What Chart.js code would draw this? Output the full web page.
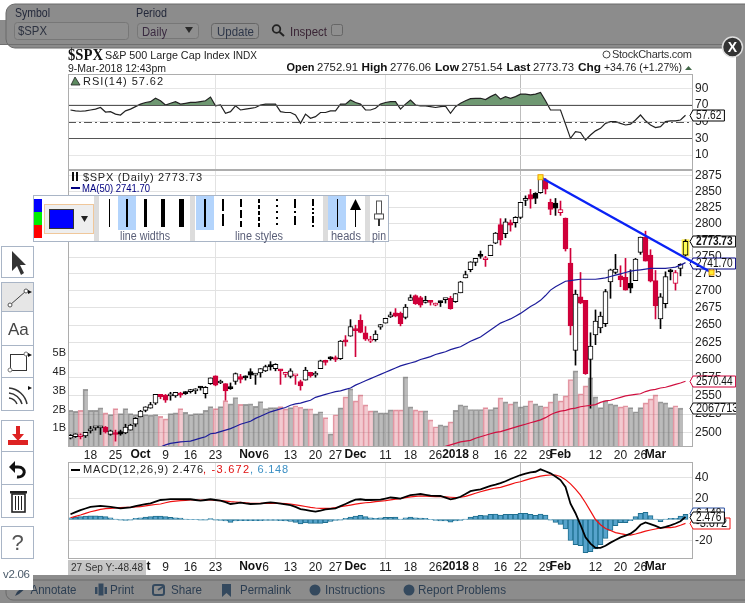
<!DOCTYPE html>
<html>
<head>
<meta charset="utf-8">
<title>$SPX</title>
<script src="https://cdn.jsdelivr.net/npm/chart.js@4"></script>
<style>
html, body { margin: 0; padding: 0; background: #fff; overflow: hidden; }
#page { position: relative; width: 745px; height: 603px; font-family: "Liberation Sans", Arial, sans-serif; }
canvas { position: absolute; left: 0; }
#overlay { position: absolute; left: 0; top: 0; z-index: 5; }
#overlay text { font-family: "Liberation Sans", Arial, sans-serif; }
</style>
</head>
<body>
<div id="page">
<canvas id="rsiChart" width="745" height="96" style="top:74px"></canvas>
<canvas id="priceChart" width="745" height="300" style="top:170px"></canvas>
<canvas id="macdChart" width="745" height="113" style="top:462px"></canvas>

<svg id="overlay" width="745" height="603" xmlns="http://www.w3.org/2000/svg">
  <!-- greyed out page around the dialog -->
  <rect x="0" y="20" width="745" height="24" fill="#8c8c8c"/>
  <rect x="6" y="4" width="760" height="44" rx="9" fill="#8c8c8c" stroke="#6a6a6a"/>
  <rect x="0" y="44" width="745" height="1" fill="#6f6f6f"/>
  <rect x="736" y="44" width="9" height="531" fill="#8c8c8c"/>
  <rect x="0" y="575" width="745" height="28" fill="#8c8c8c"/>
  <rect x="6" y="580" width="760" height="20" rx="7" fill="none" stroke="#6a6a6a"/>

  <!-- symbol form -->
  <text x="15" y="17" font-size="12" fill="#23283a" textLength="35" lengthAdjust="spacingAndGlyphs">Symbol</text>
  <rect x="14.5" y="22.5" width="114" height="17" rx="3" fill="#8f8f8f" stroke="#777"/>
  <text x="18" y="35" font-size="12" fill="#2d3240" textLength="29" lengthAdjust="spacingAndGlyphs">$SPX</text>
  <text x="136" y="17" font-size="12" fill="#23283a" textLength="31" lengthAdjust="spacingAndGlyphs">Period</text>
  <rect x="137.5" y="23.5" width="61" height="15" rx="3" fill="#8f8f8f" stroke="#777"/>
  <text x="142" y="36" font-size="12" fill="#3a2a40" textLength="25" lengthAdjust="spacingAndGlyphs">Daily</text>
  <polygon points="185,27 193,27 189,33" fill="#2a2a2a"/>
  <rect x="211.5" y="23.5" width="47" height="15" rx="3" fill="#8f8f8f" stroke="#666"/>
  <text x="217" y="36" font-size="12" fill="#2d3648" textLength="37" lengthAdjust="spacingAndGlyphs">Update</text>
  <circle cx="276.5" cy="29" r="3.8" fill="none" stroke="#222" stroke-width="1.8"/>
  <line x1="279.5" y1="32" x2="284" y2="36" stroke="#222" stroke-width="2"/>
  <text x="290" y="36" font-size="12" fill="#3a2535" textLength="37" lengthAdjust="spacingAndGlyphs">Inspect</text>
  <rect x="331.5" y="24.5" width="11" height="11" rx="2" fill="#8f8f8f" stroke="#666"/>

  <!-- close button -->
  <circle cx="732.5" cy="47" r="10" fill="#333" stroke="#ddd" stroke-width="1.5"/>
  <text x="732.5" y="52" font-size="14" font-weight="bold" fill="#fff" text-anchor="middle">X</text>

  <!-- chart header -->
  <text x="68" y="60" font-size="16" font-weight="bold" style="font-family:'Liberation Serif'" fill="#111" textLength="35" lengthAdjust="spacingAndGlyphs">$SPX</text>
  <text x="105" y="59" font-size="11" fill="#222" textLength="125" lengthAdjust="spacingAndGlyphs">S&amp;P 500 Large Cap Index</text>
  <text x="233" y="59" font-size="10" fill="#222" textLength="24" lengthAdjust="spacingAndGlyphs">INDX</text>
  <text x="68" y="72" font-size="11" fill="#222" textLength="98" lengthAdjust="spacingAndGlyphs">9-Mar-2018 12:43pm</text>
  <text x="286.5" y="71" font-size="11.5" font-weight="bold" fill="#111" textLength="28" lengthAdjust="spacingAndGlyphs">Open</text>
  <text x="317" y="71" font-size="11" fill="#222" textLength="41" lengthAdjust="spacingAndGlyphs">2752.91</text>
  <text x="361.5" y="71" font-size="11.5" font-weight="bold" fill="#111" textLength="26" lengthAdjust="spacingAndGlyphs">High</text>
  <text x="390" y="71" font-size="11" fill="#222" textLength="41" lengthAdjust="spacingAndGlyphs">2776.06</text>
  <text x="435" y="71" font-size="11.5" font-weight="bold" fill="#111" textLength="24" lengthAdjust="spacingAndGlyphs">Low</text>
  <text x="461.5" y="71" font-size="11" fill="#222" textLength="41" lengthAdjust="spacingAndGlyphs">2751.54</text>
  <text x="506.5" y="71" font-size="11.5" font-weight="bold" fill="#111" textLength="24" lengthAdjust="spacingAndGlyphs">Last</text>
  <text x="533" y="71" font-size="11" fill="#222" textLength="41" lengthAdjust="spacingAndGlyphs">2773.73</text>
  <text x="578" y="71" font-size="11.5" font-weight="bold" fill="#111" textLength="23" lengthAdjust="spacingAndGlyphs">Chg</text>
  <text x="604" y="71" font-size="11" fill="#222" textLength="78" lengthAdjust="spacingAndGlyphs">+34.76 (+1.27%)</text>
  <polygon points="685,70 692,70 688.5,66" fill="#44694a"/>
  <circle cx="606.5" cy="54.5" r="3.5" fill="none" stroke="#444"/>
  <text x="612" y="58" font-size="11" fill="#333" textLength="80">StockCharts.com</text>

  <!-- pane legends -->
  <polygon points="71,85 75,77 80,85" fill="#5d8a60" stroke="#222" stroke-width="0.8"/>
  <text x="83" y="85" font-size="11" fill="#222" textLength="80">RSI(14) 57.62</text>
  <path d="M73 172v9M77 172v9" stroke="#111" stroke-width="2"/>
  <text x="83" y="181" font-size="11" fill="#222" textLength="119">$SPX (Daily) 2773.73</text>
  <rect x="71" y="187" width="9" height="2" fill="#000080"/>
  <text x="82" y="192" font-size="11" fill="#000080" textLength="68" lengthAdjust="spacingAndGlyphs">MA(50) 2741.70</text>
  <rect x="71" y="469" width="9" height="2" fill="#000"/>
  <text x="83" y="473" font-size="11" fill="#222" textLength="120">MACD(12,26,9) 2.476</text>
  <text x="203" y="473" font-size="11" fill="#e01010" textLength="46">, -3.672</text>
  <text x="250" y="473" font-size="11" fill="#3a8fc4" textLength="38">, 6.148</text>

  <!-- annotation toolbar -->
  <rect x="33.5" y="195.5" width="355" height="46" fill="#fff" stroke="#a9b5c6"/>
  <rect x="34" y="199" width="8" height="13" fill="#0000ff"/>
  <rect x="34" y="212" width="8" height="13" fill="#00ee00"/>
  <rect x="34" y="225" width="8" height="13" fill="#ff0000"/>
  <rect x="44.5" y="204.5" width="49" height="29" fill="#eee" stroke="#f0c79a"/>
  <rect x="49.5" y="209.5" width="24" height="19" fill="#0000ff" stroke="#333"/>
  <polygon points="81,216 88,216 84.5,222" fill="#222"/>
  <rect x="94" y="196" width="5" height="45" fill="#dcdcdc"/>
  <rect x="118" y="196" width="18" height="34" fill="#b3d4fc"/>
  <path d="M109.5 199v28" stroke="#000" stroke-width="1"/>
  <path d="M127 199v28" stroke="#000" stroke-width="2"/>
  <path d="M145.5 199v28" stroke="#000" stroke-width="3"/>
  <path d="M163 199v28" stroke="#000" stroke-width="4"/>
  <path d="M181.5 199v28" stroke="#000" stroke-width="5"/>
  <text x="120" y="240" font-size="12" fill="#5a5f78" textLength="50" lengthAdjust="spacingAndGlyphs">line widths</text>
  <rect x="190" y="196" width="5" height="45" fill="#dcdcdc"/>
  <rect x="196" y="196" width="18" height="34" fill="#b3d4fc"/>
  <path d="M205 199v28" stroke="#000" stroke-width="2"/>
  <path d="M223 199v28" stroke="#000" stroke-width="2" stroke-dasharray="12 3"/>
  <path d="M241 199v28" stroke="#000" stroke-width="2" stroke-dasharray="8 3"/>
  <path d="M259 199v28" stroke="#000" stroke-width="2" stroke-dasharray="4 2"/>
  <path d="M277 199v28" stroke="#000" stroke-width="2" stroke-dasharray="2 4"/>
  <path d="M295 199v28" stroke="#000" stroke-width="2" stroke-dasharray="9 3 2 3"/>
  <path d="M313 199v28" stroke="#000" stroke-width="2" stroke-dasharray="7 2 2 2 2 2"/>
  <text x="235" y="240" font-size="12" fill="#5a5f78" textLength="48" lengthAdjust="spacingAndGlyphs">line styles</text>
  <rect x="323" y="196" width="5" height="45" fill="#dcdcdc"/>
  <rect x="328" y="196" width="18" height="34" fill="#b3d4fc"/>
  <path d="M337.5 199v28" stroke="#000" stroke-width="1"/>
  <path d="M355.5 205v22" stroke="#000" stroke-width="1"/>
  <polygon points="350,210 361,210 355.5,199" fill="#000"/>
  <text x="331" y="240" font-size="12" fill="#5a5f78" textLength="30" lengthAdjust="spacingAndGlyphs">heads</text>
  <rect x="365" y="196" width="5" height="45" fill="#dcdcdc"/>
  <rect x="376.5" y="201" width="5" height="13" fill="#fff" stroke="#555"/>
  <rect x="374.5" y="214" width="9" height="5" fill="#fff" stroke="#555"/>
  <path d="M379 219v7" stroke="#333" stroke-width="2"/>
  <text x="372" y="240" font-size="12" fill="#5a5f78" textLength="14" lengthAdjust="spacingAndGlyphs">pin</text>

  <!-- left tool buttons -->
  <g fill="#fff" stroke="#a9b5c6">
    <rect x="1.5" y="246.5" width="32" height="31"/>
    <rect x="1.5" y="282.5" width="32" height="29" fill="#e6e6e6"/>
    <rect x="1.5" y="311.5" width="32" height="34"/>
    <rect x="1.5" y="345.5" width="32" height="32"/>
    <rect x="1.5" y="377.5" width="32" height="33"/>
    <rect x="1.5" y="420.5" width="32" height="31"/>
    <rect x="1.5" y="451.5" width="32" height="33"/>
    <rect x="1.5" y="484.5" width="32" height="33"/>
    <rect x="1.5" y="526.5" width="32" height="32"/>
  </g>
  <polygon points="12,251 12,271 17,266 21,275 24,273 20,265 26,265" fill="#333"/>
  <line x1="10" y1="305" x2="26" y2="291" stroke="#444"/>
  <circle cx="10" cy="305" r="2" fill="#fff" stroke="#555"/>
  <circle cx="26" cy="291" r="2" fill="#fff" stroke="#555"/>
  <polygon points="28,290 32,292 28,294" fill="#111"/>
  <text x="8" y="335" font-size="17" fill="#444">Aa</text>
  <rect x="10.5" y="354.5" width="16" height="16" fill="none" stroke="#333"/>
  <circle cx="10" cy="370" r="2" fill="#fff" stroke="#777"/>
  <circle cx="26" cy="354" r="2" fill="#fff" stroke="#777"/>
  <polygon points="28,353 32,355 28,357" fill="#111"/>
  <path d="M9 388 A20 20 0 0 1 27 404 M9 393 A15 15 0 0 1 22 404 M9 398 A10 10 0 0 1 17 404" fill="none" stroke="#333" stroke-width="1.5"/>
  <polygon points="28,386 32,388 28,390" fill="#111"/>
  <path d="M16 426h4v8h4l-6 7-6-7h4z" fill="#dd2222"/>
  <rect x="8" y="440" width="20" height="5" fill="#dd2222"/>
  <path d="M17 477 C26 478 27 467 18 467 H14" fill="none" stroke="#111" stroke-width="3"/>
  <polygon points="15,461 15,473 9,467" fill="#111"/>
  <rect x="12" y="494" width="13" height="18" fill="none" stroke="#222" stroke-width="1.6"/>
  <path d="M15.5 496v14M18.5 496v14M21.5 496v14" stroke="#222"/>
  <rect x="10" y="491" width="17" height="2.5" fill="#222"/>
  <text x="17.5" y="550" font-size="22" fill="#555" text-anchor="middle">?</text>

  <!-- cursor read-out -->
  <rect x="68" y="560" width="78" height="15" fill="#c6c6c6"/>
  <text x="71" y="571" font-size="11" fill="#333" textLength="72" lengthAdjust="spacingAndGlyphs">27 Sep Y:-48.48</text>

  <!-- footer links -->
  <g font-size="12.5" fill="#2c3e52">
    <path d="M15 596l2-4 8-7 2 2-8 7z" fill="#2c3e52"/>
    <text x="30.5" y="594" textLength="46" lengthAdjust="spacingAndGlyphs">Annotate</text>
    <rect x="95" y="587" width="12" height="7" fill="#34495e"/><rect x="98" y="583" width="6" height="13" fill="#34495e" stroke="#8c8c8c"/>
    <text x="110" y="594" textLength="24" lengthAdjust="spacingAndGlyphs">Print</text>
    <rect x="153" y="585" width="11" height="10" rx="2" fill="none" stroke="#34495e" stroke-width="2"/><path d="M158 590l6-4" stroke="#34495e" stroke-width="2"/>
    <text x="171" y="594" textLength="31" lengthAdjust="spacingAndGlyphs">Share</text>
    <polygon points="222,584 231,584 231,597 226.5,593 222,597" fill="#34495e"/>
    <text x="240" y="594" textLength="51" lengthAdjust="spacingAndGlyphs">Permalink</text>
    <circle cx="315" cy="590" r="5.5" fill="#34495e"/>
    <text x="325" y="594" textLength="60" lengthAdjust="spacingAndGlyphs">Instructions</text>
    <circle cx="409" cy="590" r="5.5" fill="#34495e"/>
    <text x="418" y="594" textLength="88" lengthAdjust="spacingAndGlyphs">Report Problems</text>
  </g>
  <rect x="0" y="571" width="33" height="19" fill="#fff"/>
  <text x="3" y="578" font-size="11.5" fill="#4a5a6a" textLength="27">v2.06</text>
</svg>
</div>

<script>
// Trading days shown on the chart, last slot is the empty margin on the right
const days = [
    '9/12','9/13','9/14','9/15','9/18','9/19','9/20','9/21','9/22','9/25',
    '9/26','9/27','9/28','9/29','10/2','10/3','10/4','10/5','10/6','10/9',
    '10/10','10/11','10/12','10/13','10/16','10/17','10/18','10/19','10/20','10/23',
    '10/24','10/25','10/26','10/27','10/30','10/31','11/1','11/2','11/3','11/6',
    '11/7','11/8','11/9','11/10','11/13','11/14','11/15','11/16','11/17','11/20',
    '11/21','11/22','11/24','11/27','11/28','11/29','11/30','12/1','12/4','12/5',
    '12/6','12/7','12/8','12/11','12/12','12/13','12/14','12/15','12/18','12/19',
    '12/20','12/21','12/22','12/26','12/27','12/28','12/29','1/2','1/3','1/4',
    '1/5','1/8','1/9','1/10','1/11','1/12','1/16','1/17','1/18','1/19',
    '1/22','1/23','1/24','1/25','1/26','1/29','1/30','1/31','2/1','2/2',
    '2/5','2/6','2/7','2/8','2/9','2/12','2/13','2/14','2/15','2/16',
    '2/20','2/21','2/22','2/23','2/26','2/27','2/28','3/1','3/2','3/5',
    '3/6','3/7','3/8','3/9',''
];

// Date axis labels
const dateLabels = {
    '9/18':'18','9/25':'25','10/2':'Oct','10/9':'9','10/16':'16','10/23':'23','11/1':'Nov','11/6':'6',
    '11/13':'13','11/20':'20','11/27':'27','12/1':'Dec','12/11':'11','12/18':'18','12/26':'26','1/2':'2018',
    '1/8':'8','1/16':'16','1/22':'22','1/29':'29','2/1':'Feb','2/12':'12','2/20':'20','2/26':'26','3/1':'Mar'
};
const majorLabels = ['Oct', 'Nov', 'Dec', '2018', 'Feb', 'Mar'];

const opens = [
    2492,2494,2494,2495,2502,2506,2506,2507,2497,2499,
    2501,2499,2503,2511,2521,2530,2533,2540,2552,2551,
    2550,2550,2552,2556,2556,2557,2562,2553,2567,2578,
    2568,2567,2561,2570,2577,2576,2584,2579,2582,2585,
    2592,2588,2586,2580,2577,2578,2570,2572,2583,2579,
    2588,2599,2603,2603,2602,2628,2634,2645,2657,2639,
    2627,2629,2647,2653,2662,2668,2667,2661,2686,2693,
    2690,2683,2684,2679,2683,2687,2689,2684,2697,2719,
    2731,2742,2751,2746,2752,2771,2799,2785,2802,2802,
    2810,2836,2845,2847,2848,2868,2833,2832,2817,2809,
    2741,2614,2691,2686,2601,2636,2646,2652,2713,2727,
    2722,2720,2711,2715,2757,2780,2753,2715,2659,2681,
    2731,2711,2733,2752.91
];
const highs = [
    2497,2498,2498,2500,2508,2507,2508,2508,2503,2503,
    2503,2511,2511,2520,2530,2535,2541,2552,2552,2552,
    2555,2555,2555,2556,2559,2560,2563,2563,2575,2578,
    2572,2567,2568,2582,2580,2578,2588,2581,2588,2593,
    2598,2595,2587,2583,2588,2579,2572,2590,2583,2584,
    2600,2600,2605,2606,2628,2635,2658,2650,2665,2648,
    2634,2642,2651,2660,2669,2674,2669,2680,2694,2694,
    2692,2692,2686,2682,2685,2688,2692,2696,2714,2729,
    2743,2748,2759,2751,2768,2787,2808,2808,2806,2811,
    2833,2843,2853,2848,2873,2870,2838,2839,2835,2809,
    2763,2701,2727,2686,2639,2672,2669,2702,2732,2754,
    2737,2748,2731,2748,2780,2789,2761,2730,2696,2728,
    2732,2730,2740,2776.06
];
const lows = [
    2491,2493,2491,2493,2499,2503,2497,2499,2496,2488,
    2496,2498,2503,2508,2521,2528,2533,2538,2546,2541,
    2544,2548,2548,2552,2554,2553,2558,2547,2566,2564,
    2567,2544,2559,2566,2568,2572,2574,2566,2576,2584,
    2586,2585,2566,2576,2575,2566,2558,2572,2576,2576,
    2588,2593,2600,2598,2601,2620,2634,2605,2639,2628,
    2625,2627,2644,2653,2661,2662,2649,2659,2686,2680,
    2676,2682,2679,2678,2677,2682,2673,2683,2697,2719,
    2728,2737,2748,2736,2752,2770,2768,2779,2789,2795,
    2808,2828,2824,2831,2847,2846,2814,2813,2813,2759,
    2636,2593,2681,2580,2533,2622,2639,2648,2689,2725,
    2706,2701,2697,2715,2754,2744,2713,2659,2645,2675,
    2716,2701,2722,2751.54
];
const closes = [
    2496,2498,2495,2500,2504,2507,2508,2501,2502,2497,
    2497.5,2507,2510,2519,2529,2535,2538,2552,2549,2544,
    2551,2555,2551,2553,2557.6,2559,2561,2562,2575,2565,
    2569,2557,2560,2581,2573,2575,2579,2580,2588,2591,
    2591,2594,2585,2582,2585,2578.5,2564,2586,2578,2582,
    2599,2597,2602,2601,2627,2626,2648,2642,2639.5,2630,
    2629,2637,2651,2660,2664,2663,2652,2676,2690,2681,
    2679,2685,2683,2680.5,2682.6,2687.5,2674,2696,2713,2724,
    2743,2748,2751,2748,2768,2786,2776,2803,2798,2810,
    2833,2839,2838,2839,2873,2853.5,2822,2824,2822,2762,
    2649,2695,2682,2581,2620,2656,2663,2699,2731,2732,
    2716,2701,2704,2747,2780,2744,2714,2678,2691,2721,
    2728,2727,2739,2773.73
];
// Volume in billions, today's bar is not in yet
const volumes = [
    1.95,1.9,1.95,3.07,1.95,1.95,2.09,1.82,1.73,2.05,
    1.78,2.05,1.78,1.73,1.78,1.73,1.7,1.73,1.63,1.5,
    1.78,1.82,2.05,1.85,1.73,1.78,1.78,1.95,2.15,2.05,
    2.15,2.47,2.3,2.64,2.27,2.27,2.3,2.17,2.42,2.05,
    2.1,2.1,2.15,2.03,2.1,2.2,2.12,2.03,2.03,1.77,
    1.88,1.57,0.7,1.72,2.09,2.67,3.1,2.46,2.78,2.25,
    1.93,1.93,1.82,1.82,1.98,1.98,1.98,3.74,2.14,1.98,
    1.93,1.93,1.45,1.08,1.18,1.13,1.34,1.95,2.25,2.2,
    2,2,2,2.1,2,2.1,2.62,2.41,2.3,2.41,
    2.14,2.2,2.46,2.3,2.2,2.14,2.41,2.84,2.46,2.73,
    3.6,4.06,2.84,3.26,3.69,2.67,2.1,2.46,2.3,2.25,
    2.14,2.2,2.1,1.88,2.1,2.35,2.57,2.78,2.41,2.35,
    2.1,2.2,2.07,null
];
// MA(50) starts at bar 18, MA(200) at bar 73, earlier ones are under the pane
const ma50Start = 18;
const ma50 = [
    2480,2483,2485,2486,2487,2487.5,2488,2490,2492,2494,2498,2499,
    2501,2503,2505,2508,2511,2513,2515,2519,2522,2525,
    2528,2530,2532,2534,2537,2539,2540,2542,2544,2548,
    2550,2552,2554,2556,2557,2559,2561,2565,2568,2571,
    2574,2577,2580,2583,2586,2589,2592,2594,2596,2598,
    2601,2603,2605,2608,2610,2612,2615,2617,2619,2623,
    2627,2630,2633,2638,2643,2648,2653,2656,2659,2663,
    2667,2672,2677,2681,2686,2693,2701,2706,2710,2714,
    2715,2716,2717,2717,2717,2717,2718,2719,2721,2723,
    2725,2727,2729,2730,2731,2732,2733,2733,2733,2733,
    2734,2735,2738,2741.7
];
const ma200Start = 73;
const ma200 = [
    2478,2479,2481,2483,2485,2487,2488,2489,2492,2494,
    2496,2498,2500,2501,2503,2505,2507,2509,2511,2513,
    2515,2517,2520,2524,2527,2529,2530,2532,2533,2535,
    2536,2537,2538,2541,2543,2544,2546,2548,2550,2551,
    2552,2553,2556,2558,2559,2561,2562,2564,2566,2568,
    2570.44
];
const rsi = [
    64,63,62.5,63,64,65,67,61.5,62,59,
    58,63,65,68,71,73,74,78,75,70,
    72,74,71,72,73,73,74,75,79.5,69,
    70,60,62,69,64,65,66,67,70,71,
    71,71,62,61,61,58,48,59,54,56,
    61,61,63,63,71,71,76,73,71,64,
    64,66,71,73,74,74,65,71,76,70,
    69,69,68,67,68,68.5,60,68,72,75,
    77.5,78,78,76.5,80,83,77,80,78,80,
    83,83,82,83,85,75,64,64,64,47,
    30,38,37,28,34,39,42,48,50,50,
    48,46,47,52,58,51,46,43,44,50,
    51,51,52,57.62
];
const macd = [
    5,7,9,10.5,12,12.5,13,12.5,12,11.3,
    10.7,11.2,11.6,12.7,13.8,14.6,15.4,17,18.6,19,
    19.5,19.5,19.4,19.3,19.3,18.6,18,18.6,19.3,18.6,
    18,16.5,14.8,15.3,16,15.3,14.8,15,15.2,15.8,
    16.4,15.8,15.2,14.5,13.8,12,10,9.2,8.3,7.5,
    8.5,9.7,10.2,10.7,12.7,14.8,17,19,19.3,18.6,
    18.6,18.8,19,20,21,20.5,20,21.7,23.3,23.8,
    24.3,23.5,22.7,22.5,22.4,20.8,19.2,20.2,21.7,24.3,
    27,27.9,28.8,30.4,32,33.2,34.6,36.5,38.6,40.5,
    42.4,43.7,45,45.5,47.8,46,44,41,37.6,31,
    15,6,-5,-17,-23,-27,-27,-25,-22,-19.5,
    -17,-15.3,-13.5,-10,-5,-2.8,-4.3,-6,-8.2,-7,
    -5.5,-3.8,-1.6,2.476
];
const macdSignal = [
    1.7,3,4.3,5.8,7.4,8.5,9.7,10.3,10.7,11,
    11.3,11.5,11.6,12,12.2,13,13.8,14.3,14.8,16,
    17,17.5,18,18.3,18.6,18.6,18.6,18.6,18.6,18.3,
    18,17.5,17,16.7,16.4,16,15.4,15.4,15.4,15.4,
    15.4,15.4,15.4,15.1,14.8,14,13.2,12.4,11.6,11,
    10.7,10.7,10.7,11.4,12.2,13,13.8,14.6,15.4,16,
    16.4,17,17.5,18,18.7,19.5,20,20.8,21.5,22,
    22.4,22.2,22,21.8,21.7,21.5,21.2,21,21.2,22,
    23.5,25,26.5,27.8,29,30,30.6,32,33.5,35,
    36,37.5,39,40.2,41.4,42,42.4,42.4,41,38,
    34,29,23.3,16,8,0,-5,-8.5,-10.5,-12.5,
    -13.5,-14.3,-14.8,-13.8,-12.5,-11,-10,-9,-8,-7.8,
    -7.8,-7,-5.5,-3.672
];
const macdHist = [
    1.7,2.4,2.7,3.3,3.6,3.6,3.3,2.7,1.7,0.5,
    -0.5,-0.8,-0.5,1.1,1.7,2.4,2.7,3.3,3.3,2.7,
    2,1.7,1.4,0.5,0.2,0.2,-0.5,-0.5,0.8,-0.5,
    -0.8,-1.4,-2.7,-1.4,-1.1,-1.1,-1.1,-1.1,-1.1,-0.8,
    -0.8,-0.8,-1.1,-1.4,-1.7,-2.7,-4.3,-3.3,-3.7,-3.7,
    -3.7,-3,-1.7,-0.8,-0.5,1.1,2.4,3.3,4,2.7,
    1.7,1.1,1.7,2,2,2.4,0.5,1.7,2.4,1.7,
    1.4,1.1,-0.2,-0.8,-1.4,-1.4,-2.4,-1.4,-0.8,0.5,
    2.4,3.3,4,3.7,5,5.2,4.3,5,5,5,
    5.9,5.9,5,4,5.2,4.3,-0.5,-2.7,-4.6,-9,
    -20,-24,-25,-31.6,-30.6,-28,-24,-18,-10.3,-5.9,
    -3,-3,-1.1,2.7,5.9,6.8,3.7,0.5,-2,0.5,
    1.1,1.1,3.3,4.9
];

// Axis ticks
const priceTicks = [2500,2525,2550,2575,2600,2625,2650,2675,2700,2725,2750,2775,2800,2825,2850,2875];
const volumeTicks = [1,2,3,4,5];
const rsiTicks = [0,10,20,30,40,50,60,70,80,90,100];
const rsiLabels = [10,30,50,70,90];
const macdTicks = [-20,0,20,40];
const macdLabels = [-20,20,40];

// Latest values shown in the tags on the right
const lastClose = 2773.73;
const lastMa50 = 2741.70;
const lastMa200 = 2570.44;
const lastVolume = 2067713;
const lastRsi = 57.62;
const lastMacd = 2.476;
const lastSignal = -3.672;
const lastHist = 6.148;

// Trend line drawn on the chart: bar positions and prices of its two ends
const trendBars = [94, 128.2];
const trendPrices = [2872, 2727];

const RED = '#d0003a';
const FONT = '"Liberation Sans", Arial, sans-serif';

function withLeadingGaps(count, values) {
    return new Array(count).fill(null).concat(values);
}

// Candle colours: red when close is under the previous close, hollow when close is over the open
function candleColor(i) {
    return i > 0 && closes[i] < closes[i - 1] ? RED : '#000';
}
function bodyFill(i) {
    if (i === closes.length - 1) return '#ffff55';
    return closes[i] > opens[i] ? '#fff' : candleColor(i);
}

// Value axes keep a fixed width and no extra room for their end labels
function fitValueAxis(width) {
    return scale => {
        scale.width = width;
        scale.paddingTop = 0;
        scale.paddingBottom = 0;
    };
}

// Shared date axis, same grid on all three panes
function dateAxis(showLabels, height) {
    return {
        type: 'category',
        offset: true,
        afterFit: scale => {
            scale.height = height;
            scale.paddingLeft = 0;
            scale.paddingRight = 0;
        },
        border: { display: false },
        grid: {
            offset: false,
            drawTicks: false,
            color: ctx => {
                const label = dateLabels[days[ctx.index]];
                if (!label) return 'rgba(0,0,0,0)';
                return majorLabels.includes(label) ? '#bdbdbd' : '#e2e2e2';
            }
        },
        ticks: {
            display: showLabels,
            autoSkip: false,
            maxRotation: 0,
            padding: 1,
            color: '#222',
            font: { family: FONT, size: 12 },
            callback: function (value, index) {
                const label = dateLabels[days[index]];
                return label && !majorLabels.includes(label) ? label : null;
            }
        }
    };
}

// Bold month labels on the date axis
const monthLabels = {
    id: 'monthLabels',
    afterDraw(chart) {
        const ctx = chart.ctx;
        ctx.save();
        ctx.font = 'bold 12px ' + FONT;
        ctx.fillStyle = '#111';
        ctx.textAlign = 'center';
        ctx.textBaseline = 'top';
        days.forEach((day, i) => {
            const label = dateLabels[day];
            if (majorLabels.includes(label)) {
                ctx.fillText(label, chart.scales.x.getPixelForValue(i), chart.chartArea.bottom + 2);
            }
        });
        ctx.restore();
    }
};

// Border around a pane
const paneFrame = {
    id: 'paneFrame',
    afterDatasetsDraw(chart) {
        const a = chart.chartArea;
        const ctx = chart.ctx;
        ctx.save();
        ctx.strokeStyle = '#adadad';
        ctx.lineWidth = 1;
        ctx.strokeRect(a.left + 0.5, a.top + 0.5, a.right - a.left - 1, a.bottom - a.top - 1);
        ctx.restore();
    }
};

// Horizontal reference lines of the RSI pane
const rsiLevels = {
    id: 'rsiLevels',
    afterDatasetsDraw(chart) {
        const a = chart.chartArea;
        const y = chart.scales.y;
        const ctx = chart.ctx;
        ctx.save();
        ctx.strokeStyle = '#555';
        ctx.lineWidth = 1;
        [[70, []], [50, [8, 3, 2, 3]], [30, []]].forEach(([level, dash]) => {
            const py = Math.round(y.getPixelForValue(level)) + 0.5;
            ctx.setLineDash(dash);
            ctx.beginPath();
            ctx.moveTo(a.left, py);
            ctx.lineTo(a.right, py);
            ctx.stroke();
        });
        ctx.restore();
    }
};

function drawTag(ctx, x, y, text, color, bold) {
    ctx.font = (bold ? 'bold ' : '') + '12px ' + FONT;
    // tag text is squeezed a little, like the narrow digits in the original
    const textWidth = text.replace('.', '').length * 5.6 + 3;
    const w = textWidth + 6;
    ctx.beginPath();
    ctx.moveTo(x - 3, y);
    ctx.lineTo(x, y - 5.5);
    ctx.lineTo(x + w, y - 5.5);
    ctx.lineTo(x + w, y + 5.5);
    ctx.lineTo(x, y + 5.5);
    ctx.closePath();
    ctx.fillStyle = '#fff';
    ctx.fill();
    ctx.strokeStyle = color;
    ctx.lineWidth = 1;
    ctx.stroke();
    ctx.fillStyle = '#111';
    ctx.textAlign = 'left';
    ctx.textBaseline = 'middle';
    ctx.fillText(text, x + 3, y + 0.5, textWidth);
}

// Value tags next to the right axis
function valueTags(list) {
    return {
        id: 'valueTags',
        afterDraw(chart) {
            const ctx = chart.ctx;
            ctx.save();
            list.forEach(t => {
                const y = Math.round(chart.scales[t.axis].getPixelForValue(t.value)) + 0.5;
                drawTag(ctx, chart.chartArea.right, y, t.text, t.color, t.bold);
            });
            ctx.restore();
        }
    };
}

// Blue trend line with its two yellow handles
const trendLine = {
    id: 'trendLine',
    afterDraw(chart) {
        const ctx = chart.ctx;
        const pts = trendBars.map((bar, i) => ({
            x: chart.scales.x.getPixelForValue(bar),
            y: chart.scales.y.getPixelForValue(trendPrices[i])
        }));
        ctx.save();
        ctx.strokeStyle = '#0a22f5';
        ctx.lineWidth = 2.4;
        ctx.beginPath();
        ctx.moveTo(pts[0].x, pts[0].y);
        ctx.lineTo(pts[1].x, pts[1].y);
        ctx.stroke();
        pts.forEach(p => {
            ctx.fillStyle = '#ffee33';
            ctx.strokeStyle = '#f0a000';
            ctx.lineWidth = 1;
            ctx.fillRect(p.x - 2.5, p.y - 2.5, 5, 5);
            ctx.strokeRect(p.x - 2.5, p.y - 2.5, 5, 5);
        });
        ctx.restore();
    }
};

const baseOptions = {
    responsive: false,
    animation: false,
    devicePixelRatio: 1,
    plugins: { legend: { display: false }, tooltip: { enabled: false } }
};
const axisFont = { family: FONT, size: 12 };

function initCharts() {
    // RSI pane
    new Chart(document.getElementById('rsiChart'), {
        type: 'line',
        data: {
            labels: days,
            datasets: [{
                data: rsi,
                borderColor: '#222',
                borderWidth: 1.2,
                pointRadius: 0,
                tension: 0,
                fill: { target: { value: 70 }, above: '#6f9872', below: 'rgba(0,0,0,0)' }
            }]
        },
        options: {
            ...baseOptions,
            layout: { padding: { left: 68 } },
            scales: {
                x: dateAxis(false, 0),
                y: {
                    position: 'right',
                    min: -7.9,
                    max: 107.1,
                    afterFit: fitValueAxis(52),
                    afterBuildTicks: scale => { scale.ticks = rsiTicks.map(v => ({ value: v })); },
                    border: { display: false },
                    grid: { color: '#e6e6e6', drawTicks: false },
                    ticks: {
                        autoSkip: false,
                        padding: 2,
                        color: '#222',
                        font: axisFont,
                        callback: v => (rsiLabels.includes(v) ? String(v) : null)
                    }
                }
            }
        },
        plugins: [rsiLevels, paneFrame, valueTags([
            { axis: 'y', value: lastRsi, text: String(lastRsi), color: '#000', bold: false }
        ])]
    });

    // Price pane with volume behind the candles
    new Chart(document.getElementById('priceChart'), {
        type: 'bar',
        data: {
            labels: days,
            datasets: [
                {
                    type: 'bar',
                    yAxisID: 'yVol',
                    order: 5,
                    data: volumes,
                    barThickness: 5,
                    backgroundColor: volumes.map((v, i) => (i > 0 && closes[i] < closes[i - 1] ? 'rgba(214,90,110,0.32)' : 'rgba(120,120,120,0.5)')),
                    borderColor: volumes.map((v, i) => (i > 0 && closes[i] < closes[i - 1] ? 'rgba(205,80,100,0.55)' : 'rgba(110,110,110,0.65)')),
                    borderWidth: { top: 1, left: 1, right: 0, bottom: 0 },
                    borderSkipped: false
                },
                {
                    // yellow highlight behind the latest candle
                    type: 'bar',
                    order: 4,
                    data: closes.map((c, i) => (i === closes.length - 1 ? [lows[i], highs[i]] : null)),
                    barThickness: 7,
                    backgroundColor: '#ffee44'
                },
                {
                    type: 'bar',
                    order: 3,
                    data: closes.map((c, i) => [lows[i], highs[i]]),
                    barThickness: 1,
                    backgroundColor: closes.map((c, i) => candleColor(i))
                },
                {
                    type: 'bar',
                    order: 2,
                    data: closes.map((c, i) => [opens[i], c]),
                    barThickness: 5,
                    minBarLength: 2,
                    backgroundColor: closes.map((c, i) => bodyFill(i)),
                    borderColor: closes.map((c, i) => candleColor(i)),
                    borderWidth: 1,
                    borderSkipped: false
                },
                {
                    type: 'line',
                    order: 1,
                    data: withLeadingGaps(ma50Start, ma50),
                    borderColor: '#1c1c9a',
                    borderWidth: 1.2,
                    pointRadius: 0,
                    tension: 0
                },
                {
                    type: 'line',
                    order: 1,
                    data: withLeadingGaps(ma200Start, ma200),
                    borderColor: '#d01040',
                    borderWidth: 1.2,
                    pointRadius: 0,
                    tension: 0
                }
            ]
        },
        options: {
            ...baseOptions,
            datasets: { bar: { grouped: false } },
            scales: {
                x: dateAxis(true, 23),
                y: {
                    type: 'logarithmic',
                    position: 'right',
                    bounds: 'data',
                    min: 2480.1,
                    max: 2883.3,
                    afterFit: fitValueAxis(52),
                    afterBuildTicks: scale => { scale.ticks = priceTicks.map(v => ({ value: v })); },
                    border: { display: false },
                    grid: { color: '#e2e2e2', drawTicks: false },
                    ticks: {
                        autoSkip: false,
                        padding: 2,
                        color: '#222',
                        font: axisFont,
                        callback: v => String(v)
                    }
                },
                yVol: {
                    position: 'left',
                    min: 0,
                    max: 14.77,
                    afterFit: fitValueAxis(68),
                    afterBuildTicks: scale => { scale.ticks = volumeTicks.map(v => ({ value: v })); },
                    border: { display: false },
                    grid: { display: false, drawTicks: false },
                    ticks: {
                        autoSkip: false,
                        padding: 2,
                        color: '#222',
                        font: { family: FONT, size: 11 },
                        callback: v => v + 'B'
                    }
                }
            }
        },
        plugins: [paneFrame, monthLabels, valueTags([
            { axis: 'yVol', value: lastVolume / 1000000, text: String(lastVolume), color: '#111', bold: false },
            { axis: 'y', value: lastMa200, text: lastMa200.toFixed(2), color: RED, bold: false },
            { axis: 'y', value: lastMa50, text: lastMa50.toFixed(2), color: '#000080', bold: false },
            { axis: 'y', value: lastClose, text: lastClose.toFixed(2), color: '#000', bold: true }
        ]), trendLine]
    });

    // MACD pane
    new Chart(document.getElementById('macdChart'), {
        type: 'bar',
        data: {
            labels: days,
            datasets: [
                {
                    type: 'bar',
                    order: 3,
                    data: macdHist,
                    barThickness: 5,
                    backgroundColor: '#56a3cc',
                    borderColor: '#1f6f8f',
                    borderWidth: 1,
                    borderSkipped: false
                },
                {
                    type: 'line',
                    order: 2,
                    data: macdSignal,
                    borderColor: '#f01010',
                    borderWidth: 1.2,
                    pointRadius: 0,
                    tension: 0
                },
                {
                    type: 'line',
                    order: 1,
                    data: macd,
                    borderColor: '#000',
                    borderWidth: 1.8,
                    pointRadius: 0,
                    tension: 0
                }
            ]
        },
        options: {
            ...baseOptions,
            layout: { padding: { left: 68 } },
            datasets: { bar: { grouped: false } },
            scales: {
                x: dateAxis(true, 16),
                y: {
                    position: 'right',
                    min: -37.6,
                    max: 54.8,
                    afterFit: fitValueAxis(52),
                    afterBuildTicks: scale => { scale.ticks = macdTicks.map(v => ({ value: v })); },
                    border: { display: false },
                    grid: { color: '#e2e2e2', drawTicks: false },
                    ticks: {
                        autoSkip: false,
                        padding: 2,
                        color: '#222',
                        font: axisFont,
                        callback: v => (macdLabels.includes(v) ? String(v) : null)
                    }
                }
            }
        },
        plugins: [paneFrame, monthLabels, valueTags([
            { axis: 'y', value: lastHist, text: String(lastHist), color: '#2a4fa0', bold: false },
            { axis: 'y', value: lastSignal, text: String(lastSignal), color: '#f01010', bold: false },
            { axis: 'y', value: lastMacd, text: String(lastMacd), color: '#000', bold: false }
        ])]
    });
}

window.addEventListener('load', () => {
    initCharts();
});
</script>
</body>
</html>
